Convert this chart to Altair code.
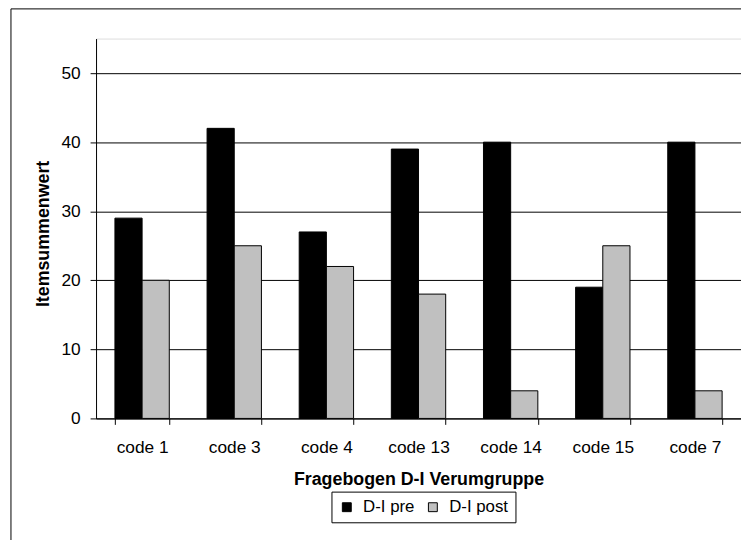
import altair as alt
import pandas as pd

codes = ["code 1", "code 3", "code 4", "code 13", "code 14", "code 15", "code 7"]
pre_values = [29, 42, 27, 39, 40, 19, 40]
post_values = [20, 25, 22, 18, 4, 25, 4]
series = ["D-I pre", "D-I post"]
series_colors = ["#000000", "#c0c0c0"]
y_ticks = [0, 10, 20, 30, 40, 50]

rows = []
for c, a, b in zip(codes, pre_values, post_values):
    rows.append({"code": c, "series": series[0], "value": a})
    rows.append({"code": c, "series": series[1], "value": b})
df = pd.DataFrame(rows)

FONT = "Liberation Sans"

frame = alt.Chart(pd.DataFrame({"k": [0]})).mark_rect(
    fillOpacity=0, stroke="#000000", strokeWidth=1
).encode(
    x=alt.value(-86), x2=alt.value(900), y=alt.value(-30), y2=alt.value(900)
)

bars = alt.Chart(df).mark_bar(stroke="#000000", strokeWidth=1).encode(
    x=alt.X(
        "code:N",
        sort=codes,
        scale=alt.Scale(paddingInner=0.41, paddingOuter=0.205),
        axis=alt.Axis(
            title="Fragebogen D-I Verumgruppe",
            labelAngle=0,
            tickBand="extent",
            tickSize=6,
            tickColor="#000000",
            domainColor="#000000",
            labelFontSize=17.5,
            labelColor="#000000",
            labelFont=FONT,
            labelBaseline="alphabetic",
            labelPadding=28,
            titleFontSize=18,
            titleFont=FONT,
            titleFontWeight="bold",
            titleColor="#000000",
            titleX=326,
            titleY=67,
            titleBaseline="alphabetic",
            grid=False,
        ),
    ),
    xOffset=alt.XOffset("series:N", sort=series, scale=alt.Scale(paddingInner=0, paddingOuter=0)),
    y=alt.Y(
        "value:Q",
        scale=alt.Scale(domain=[0, 55], nice=False),
        axis=alt.Axis(
            values=y_ticks,
            title="Itemsummenwert",
            grid=True,
            gridColor="#000000",
            gridWidth=1,
            tickSize=6,
            tickColor="#000000",
            domainColor="#000000",
            labelFontSize=17.5,
            labelFont=FONT,
            labelColor="#000000",
            labelPadding=10,
            titleFontSize=18,
            titleFont=FONT,
            titleFontWeight="bold",
            titleColor="#000000",
            titleAngle=-90,
            titleX=-53,
            titleY=197,
            titleAlign="center",
            titleBaseline="middle",
        ),
    ),
    color=alt.Color(
        "series:N",
        sort=series,
        scale=alt.Scale(domain=series, range=series_colors),
        legend=alt.Legend(
            title=None,
            orient="none",
            legendX=238,
            legendY=458,
            direction="horizontal",
            strokeColor="#000000",
            fillColor="#ffffff",
            padding=7,
            symbolType="square",
            symbolSize=81,
            symbolStrokeColor="#000000",
            symbolStrokeWidth=1,
            labelFontSize=17,
            labelFont=FONT,
            labelColor="#000000",
            labelOffset=8,
            columnPadding=10,
        ),
    ),
)

chart = alt.layer(frame, bars).properties(
    width=652,
    height=384,
    autosize=alt.AutoSizeParams(type="none"),
    padding={"left": 89, "top": 28, "right": 0, "bottom": 120},
    background="#ffffff",
).configure_view(stroke="#808080", strokeWidth=1).configure(font=FONT)

chart.save("out.html", embed_options={"renderer": "svg", "actions": False})
